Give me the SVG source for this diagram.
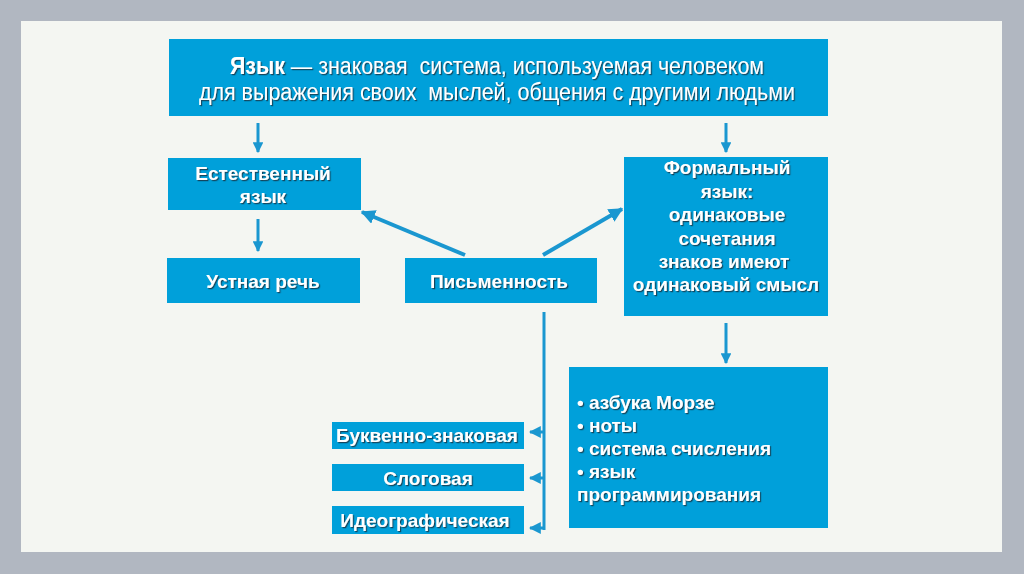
<svg xmlns="http://www.w3.org/2000/svg" width="1024" height="574" viewBox="0 0 1024 574">
<defs>
<style>
.box{fill:#00a0da}
.t{font-family:"Liberation Sans",Arial,sans-serif;font-weight:bold;font-size:19px;fill:#ffffff;filter:url(#sh)}
.tn{font-family:"Liberation Sans",Arial,sans-serif;font-size:23px;fill:#ffffff;filter:url(#sh)}
.c{text-anchor:middle}
.ln{stroke:#1a97d0;stroke-width:3;fill:none}
.lnd{stroke:#1a97d0;stroke-width:4;fill:none}
</style>
<filter id="sh" x="-10%" y="-30%" width="120%" height="160%">
<feDropShadow dx="1.2" dy="1.2" stdDeviation="0.6" flood-color="#1a3040" flood-opacity="0.8"/>
</filter>
<marker id="ah" viewBox="0 0 10 10" refX="9" refY="5" markerWidth="3.6" markerHeight="3.6" orient="auto" markerUnits="strokeWidth">
<path d="M0,0 L10,5 L0,10 z" fill="#1a97d0"/>
</marker>
<marker id="ahs" viewBox="0 0 10 10" refX="9" refY="5" markerWidth="4" markerHeight="4" orient="auto" markerUnits="strokeWidth">
<path d="M0,0 L10,5 L0,10 z" fill="#1a97d0"/>
</marker>
</defs>
<rect x="0" y="0" width="1024" height="574" fill="#b1b7c1"/>
<rect x="21" y="21" width="981" height="531" fill="#f4f6f2"/>

<g id="connectors">
<line class="ln" x1="258" y1="123" x2="258" y2="152" marker-end="url(#ah)"/>
<line class="ln" x1="726" y1="123" x2="726" y2="152" marker-end="url(#ah)"/>
<line class="ln" x1="258" y1="219" x2="258" y2="251" marker-end="url(#ah)"/>
<line class="ln" x1="726" y1="323" x2="726" y2="363" marker-end="url(#ah)"/>
<line class="lnd" x1="465" y1="255" x2="362" y2="212" marker-end="url(#ah)"/>
<line class="lnd" x1="543" y1="255" x2="622" y2="209" marker-end="url(#ah)"/>
<line class="ln" x1="544" y1="312" x2="544" y2="530"/>
<line class="ln" x1="543" y1="432" x2="530" y2="432" marker-end="url(#ahs)"/>
<line class="ln" x1="543" y1="478" x2="530" y2="478" marker-end="url(#ahs)"/>
<line class="ln" x1="543" y1="528" x2="530" y2="528" marker-end="url(#ahs)"/>
</g>

<g id="main">
<rect class="box" x="169" y="39" width="659" height="77"/>
<text class="tn c" x="497" y="74" xml:space="preserve" textLength="534" lengthAdjust="spacingAndGlyphs"><tspan font-weight="bold">Язык</tspan> — знаковая  система, используемая человеком</text>
<text class="tn c" x="497" y="100" xml:space="preserve" textLength="596" lengthAdjust="spacingAndGlyphs">для выражения своих  мыслей, общения с другими людьми</text>
</g>

<g id="natural">
<rect class="box" x="168" y="158" width="193" height="52"/>
<text class="t c" x="263" y="180">Естественный</text>
<text class="t c" x="263" y="203">язык</text>
</g>

<g id="oral">
<rect class="box" x="167" y="258" width="193" height="45"/>
<text class="t c" x="263" y="288">Устная речь</text>
</g>

<g id="writing">
<rect class="box" x="405" y="258" width="192" height="45"/>
<text class="t c" x="499" y="288">Письменность</text>
</g>

<g id="formal">
<rect class="box" x="624" y="157" width="204" height="159"/>
<text class="t c" x="727" y="174">Формальный</text>
<text class="t c" x="727" y="198">язык:</text>
<text class="t c" x="727" y="221">одинаковые</text>
<text class="t c" x="727" y="245">сочетания</text>
<text class="t c" x="724" y="268">знаков имеют</text>
<text class="t c" x="726" y="291">одинаковый смысл</text>
</g>

<g id="examples">
<rect class="box" x="569" y="367" width="259" height="161"/>
<text class="t" x="577" y="409">• азбука Морзе</text>
<text class="t" x="577" y="432">• ноты</text>
<text class="t" x="577" y="455">• система счисления</text>
<text class="t" x="577" y="478">• язык</text>
<text class="t" x="577" y="501">программирования</text>
</g>

<g id="alphabetic">
<rect class="box" x="332" y="422" width="192" height="27"/>
<text class="t c" x="427" y="442">Буквенно-знаковая</text>
</g>

<g id="syllabic">
<rect class="box" x="332" y="464" width="192" height="27"/>
<text class="t c" x="428" y="485">Слоговая</text>
</g>

<g id="ideographic">
<rect class="box" x="332" y="506" width="192" height="28"/>
<text class="t c" x="425" y="527">Идеографическая</text>
</g>
</svg>
